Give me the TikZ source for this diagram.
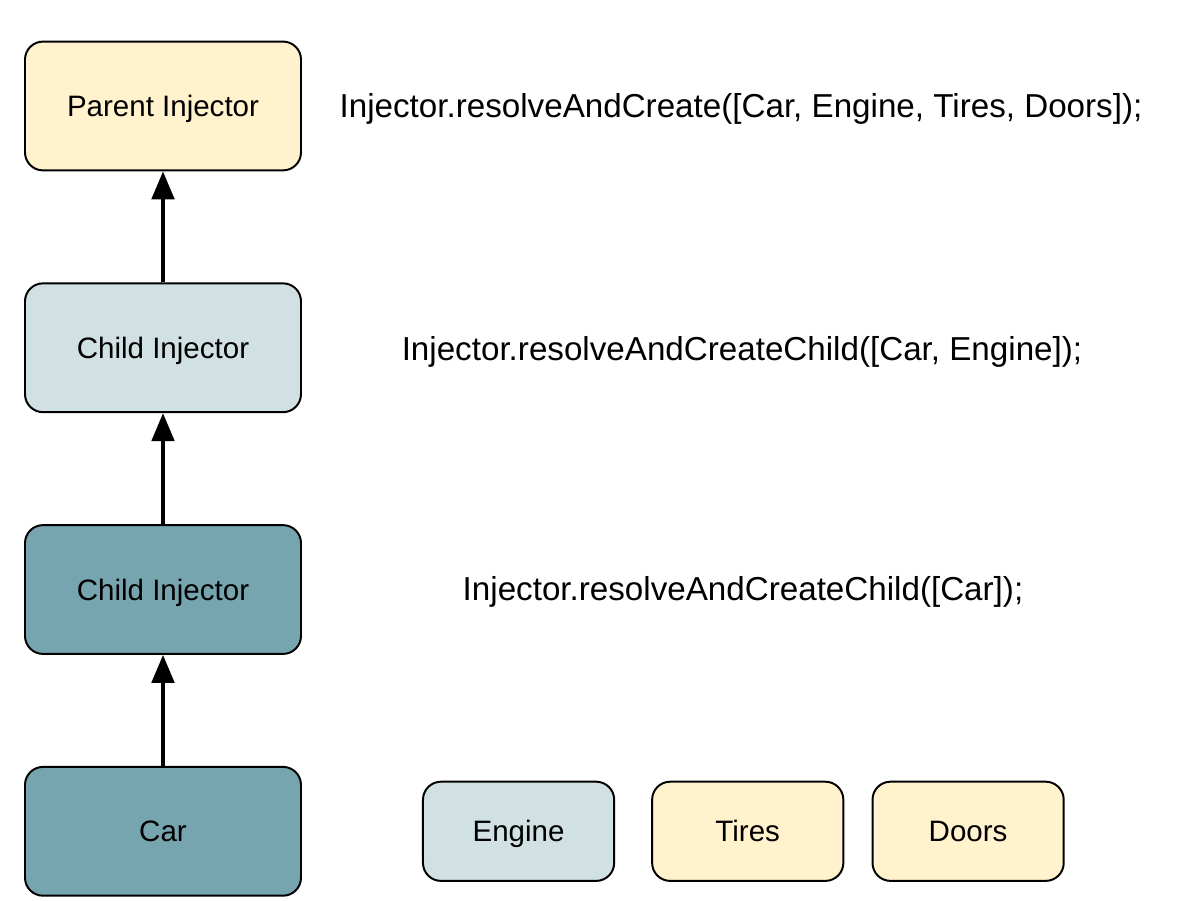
\documentclass[tikz,border=0pt]{standalone}
\usepackage{fontspec}
\setmainfont{Liberation Sans}
\usetikzlibrary{positioning,arrows.meta}
\definecolor{injcream}{RGB}{255,242,204}
\definecolor{injlight}{RGB}{208,224,227}
\definecolor{injteal}{RGB}{118,165,175}
\tikzset{
  injbox/.style={draw, line width=1.4pt, rounded corners=0.45cm, align=center, minimum width=6.9cm, minimum height=3.22cm, text height=15pt, text depth=0pt, font=\fontsize{21}{25}\selectfont},
  depbox/.style={draw, line width=1.4pt, rounded corners=0.45cm, align=center, minimum width=4.78cm, minimum height=2.48cm, text height=15pt, text depth=0pt, font=\fontsize{21}{25}\selectfont},
  code/.style={text height=16.9pt, text depth=0pt, font=\fontsize{23.6}{28}\selectfont},
  arrow/.style={-{Triangle[length=0.7cm, width=0.56cm]}, line width=2.8pt}
}
\begin{document}
\begin{tikzpicture}[node distance=2.775cm]
    \useasboundingbox (0,0) rectangle (30,22.525);
    \node[injbox, fill=injcream] at (4.075,19.875) (parent) {Parent Injector};
    \node[injbox, fill=injlight, below=of parent] (childA) {Child Injector};
    \node[injbox, fill=injteal, below=of childA] (childB) {Child Injector};
    \node[injbox, fill=injteal, below=of childB] (car) {Car};
    \node[depbox, fill=injlight, right=3cm of car] (engine) {Engine};
    \node[depbox, fill=injcream, right=0.9cm of engine] (tires) {Tires};
    \node[depbox, fill=injcream, right=0.68cm of tires] (doors) {Doors};
    % code for each injector
    \node[code] at (18.525,19.875) (createParent) {Injector.resolveAndCreate([Car, Engine, Tires, Doors]);};
    \node[code] at (18.55,13.8) (createChildA) {Injector.resolveAndCreateChild([Car, Engine]);};
    \node[code] at (18.575,7.8) (createChildB) {Injector.resolveAndCreateChild([Car]);};
    \draw[arrow] (car) -- (childB);
    \draw[arrow] (childB) -- (childA);
    \draw[arrow] (childA) -- (parent);
\end{tikzpicture}
\end{document}
